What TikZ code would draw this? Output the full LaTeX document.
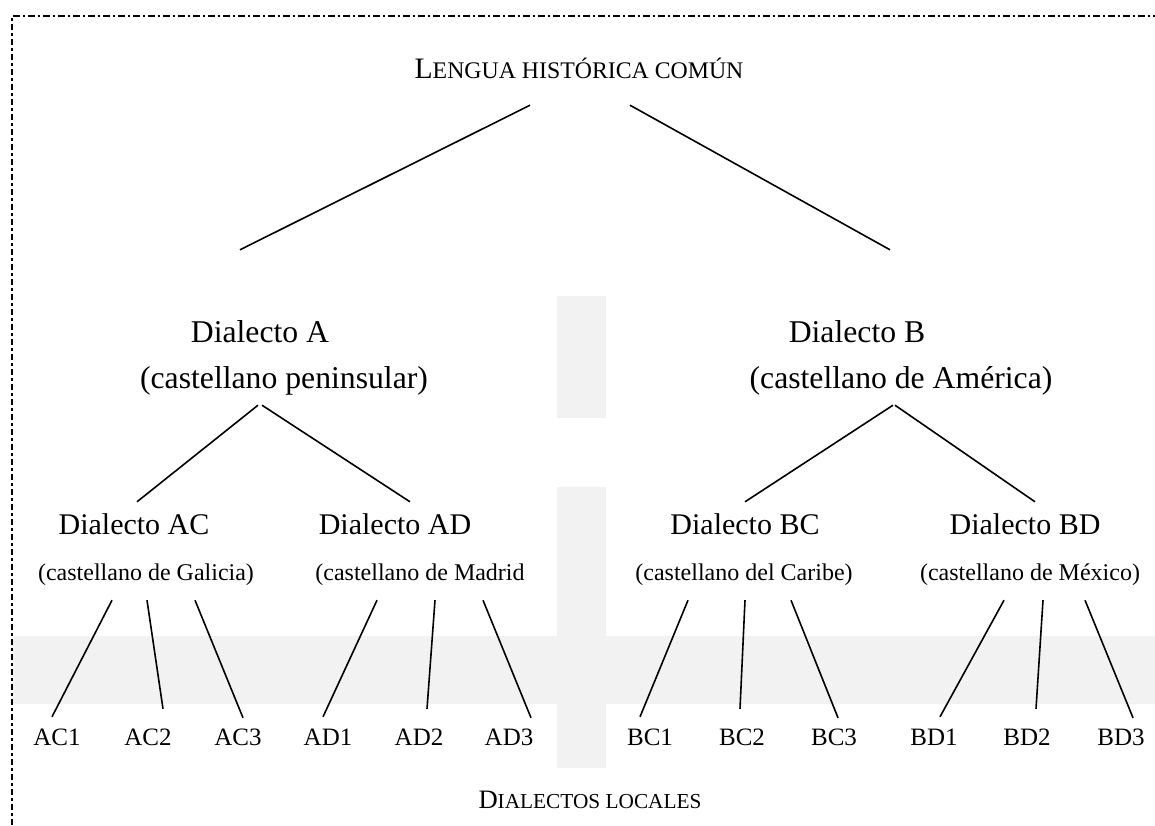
\documentclass[tikz,border=0pt]{standalone}
\usepackage{fontspec}
\setmainfont{Liberation Serif}
\usepackage{tikz}
\definecolor{barfill}{HTML}{F2F2F2}
\newcommand{\fakesc}[2]{{\fontsize{#1}{#1}\selectfont #2}}

\begin{document}
\begin{tikzpicture}[x=1pt,y=-1pt,
  every node/.style={inner sep=2pt},
  title/.style={anchor=base,font=\fontsize{29.7}{32}\selectfont,text depth=0pt},
  head/.style={anchor=base,font=\fontsize{31.7}{34}\selectfont,text height=22pt},
  headsub/.style={anchor=base,font=\fontsize{31.7}{34}\selectfont,text depth=7pt},
  dial/.style={anchor=base,font=\fontsize{30}{32}\selectfont,text height=21pt},
  dialsub/.style={anchor=base,font=\fontsize{24}{26}\selectfont,text depth=6pt},
  leaf/.style={anchor=base,font=\fontsize{25}{27}\selectfont,text height=17pt,text depth=0pt},
  branch/.style={line width=1.6pt},
  frame/.style={line width=1.7pt,dash pattern=on 6.5pt off 3pt on 2.5pt off 3pt}]
\useasboundingbox (0,0) rectangle (1155,825);

% grey bands
\fill[barfill] (557,296) rectangle (606,418);
\fill[barfill] (557,487) rectangle (606,768);
\fill[barfill] (13,636) rectangle (1155,704);
\draw[frame] (12,825) -- (12,16) -- (1155,16);

% tree
\node[title] (top) at (579,78) {L\fakesc{23.8}{ENGUA HISTÓRICA COMÚN}};
\node[head] (A) at (260,342) {Dialecto A};
\node[headsub] (A-sub) at (284,388) {(castellano peninsular)};
\node[head] (B) at (857,342) {Dialecto B};
\node[headsub] (B-sub) at (901,388) {(castellano de América)};

\node[dial] (AC) at (134,534) {Dialecto AC};
\node[dialsub] (AC-sub) at (146,580) {(castellano de Galicia)};
\node[dial] (AD) at (395,534) {Dialecto AD};
\node[dialsub] (AD-sub) at (420,580) {(castellano de Madrid};
\node[dial] (BC) at (745,534) {Dialecto BC};
\node[dialsub] (BC-sub) at (744,580) {(castellano del Caribe)};
\node[dial] (BD) at (1025,534) {Dialecto BD};
\node[dialsub] (BD-sub) at (1030,580) {(castellano de México)};

\foreach \leaf/\xpos in {AC1/57,AC2/148,AC3/238,AD1/328,AD2/419,AD3/509,
                         BC1/650,BC2/742,BC3/834,BD1/934,BD2/1027,BD3/1121}
  \node[leaf] (\leaf) at (\xpos,745) {\leaf};

\node[anchor=base] (local) at (590,808)
  {\fontsize{26.6}{28}\selectfont D\fakesc{21.3}{IALECTOS LOCALES}};

% branches
\draw[branch] ([xshift=-49pt,yshift=-25pt]top.south) -- ([xshift=-20pt,yshift=68pt]A.north);
\draw[branch] ([xshift=51pt,yshift=-25pt]top.south) -- ([xshift=33pt,yshift=68pt]B.north);
\draw[branch] ([xshift=-26pt,yshift=-8pt]A-sub.south) -- ([xshift=3pt,yshift=9pt]AC.north);
\draw[branch] ([xshift=-22pt,yshift=-8pt]A-sub.south) -- ([xshift=15pt,yshift=9pt]AD.north);
\draw[branch] ([xshift=-8pt,yshift=-8pt]B-sub.south) -- ([xshift=0pt,yshift=9pt]BC.north);
\draw[branch] ([xshift=-6pt,yshift=-8pt]B-sub.south) -- ([xshift=10pt,yshift=9pt]BD.north);

\foreach \g/\a/\b/\c/\p/\q/\r in {AC/-34/1/49/-5/15/5,AD/-43/15/63/-5/8/22,
                                  BC/-56/1/47/-10/-2/4,BD/-26/13/55/6/9/12}{
  \draw[branch] ([xshift=\a pt,yshift=-12pt]\g-sub.south) -- ([xshift=\p pt,yshift=9pt]\g1.north);
  \draw[branch] ([xshift=\b pt,yshift=-12pt]\g-sub.south) -- ([xshift=\q pt,yshift=17pt]\g2.north);
  \draw[branch] ([xshift=\c pt,yshift=-12pt]\g-sub.south) -- ([xshift=\r pt,yshift=8pt]\g3.north);
}
\end{tikzpicture}
\end{document}
